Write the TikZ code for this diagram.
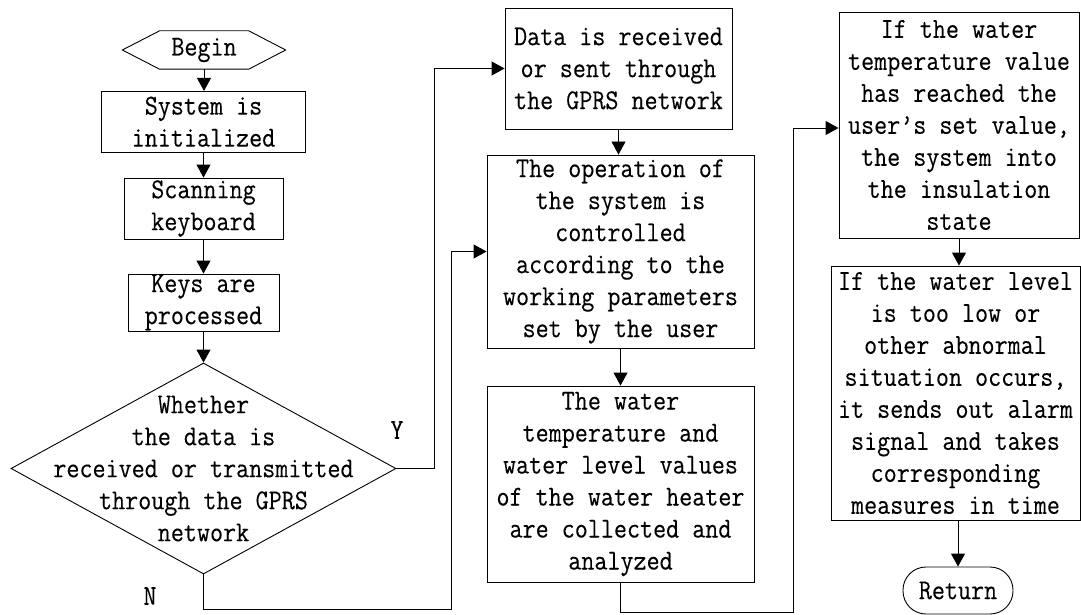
\documentclass[tikz,border=0pt]{standalone}
\usepackage{fontspec}
\setmonofont[FakeStretch=0.88,FakeBold=0.2]{Latin Modern Mono}
\usetikzlibrary{arrows.meta,shapes.geometric,calc}
\begin{document}
\begin{tikzpicture}[x=1pt,y=-1pt,
  every node/.style={font=\ttfamily\fontsize{28.8}{32}\selectfont, inner sep=0pt, align=center},
  box/.style={draw, line width=0.9pt},
  conn/.style={line width=0.9pt, -{Triangle[width=14pt,length=13pt]}},
  plain/.style={line width=0.9pt}]
\useasboundingbox (0,0) rectangle (1081,615);
% left column
\node[minimum width=163pt, minimum height=38pt] (begin) at (204,50) {Begin};
\draw[plain] (begin.west) -- ($(begin.north west)+(37.3,0)$) -- ($(begin.north east)+(-37,0)$)
  -- (begin.east) -- ($(begin.south east)+(-37,0)$) -- ($(begin.south west)+(37.3,0)$) -- cycle;
\node[box, minimum width=203.6pt, minimum height=60.7pt] (sys) at (203.5,121.7) {System is\\initialized};
\node[box, minimum width=159pt, minimum height=61pt] (scan) at (203.5,208.5) {Scanning\\keyboard};
\node[box, minimum width=151pt, minimum height=57pt] (keys) at (203.5,302.5) {Keys are\\processed};
\node[draw, line width=0.9pt, shape=diamond, minimum width=385pt, minimum height=211pt] (dec) at (203.5,468.5) {};
\node (dectext) at (dec.center) {Whether\\the data is\\received or transmitted\\through the GPRS\\network};
\node (ylab) at (397,430) {Y};
\node (nlab) at (150,596) {N};
% middle column
\node[box, minimum width=227pt, minimum height=121pt] (data) at (618.5,68.5) {Data is received\\or sent through\\the GPRS network};
\node[box, minimum width=267pt, minimum height=193pt] (op) at (620.5,251.5) {The operation of\\the system is\\controlled\\according to the\\working parameters\\set by the user};
\node[box, minimum width=267pt, minimum height=196pt] (water) at (620.5,484) {The water\\temperature and\\water level values\\of the water heater\\are collected and\\analyzed};
% right column
\node[box, minimum width=240pt, minimum height=226pt] (ifbox) at (959,125) {If the water\\temperature value\\has reached the\\user’s set value,\\the system into\\the insulation\\state};
\node[box, minimum width=249pt, minimum height=254pt] (alarm) at (955.5,393) {If the water level\\is too low or\\other abnormal\\situation occurs,\\it sends out alarm\\signal and takes\\corresponding\\measures in time};
\node[box, rounded corners=23pt, minimum width=110pt, minimum height=47pt] (ret) at (958,590.5) {Return};
% connectors
\draw[conn] (begin.south) -- (begin.south |- sys.north);
\draw[conn] (sys.south) -- (sys.south |- scan.north);
\draw[conn] (scan.south) -- (scan.south |- keys.north);
\draw[conn] (keys.south) -- (keys.south |- dec.north);
\coordinate (yturn) at (434,468.5);
\draw[conn] (dec.east) -- (yturn) |- (data.west);
\coordinate (nturn) at (451,609);
\draw[conn] (dec.south) |- (nturn) |- (op.west);
\draw[conn] (data.south) -- (data.south |- op.north);
\draw[conn] (op.south) -- (op.south |- water.north);
\coordinate (wturn) at (793,612);
\draw[conn] (water.south) |- (wturn) |- ([yshift=-3pt]ifbox.west);
\draw[conn] (ifbox.south) -- (ifbox.south |- alarm.north);
\draw[conn] (ret.north |- alarm.south) -- (ret.north);
\end{tikzpicture}
\end{document}
